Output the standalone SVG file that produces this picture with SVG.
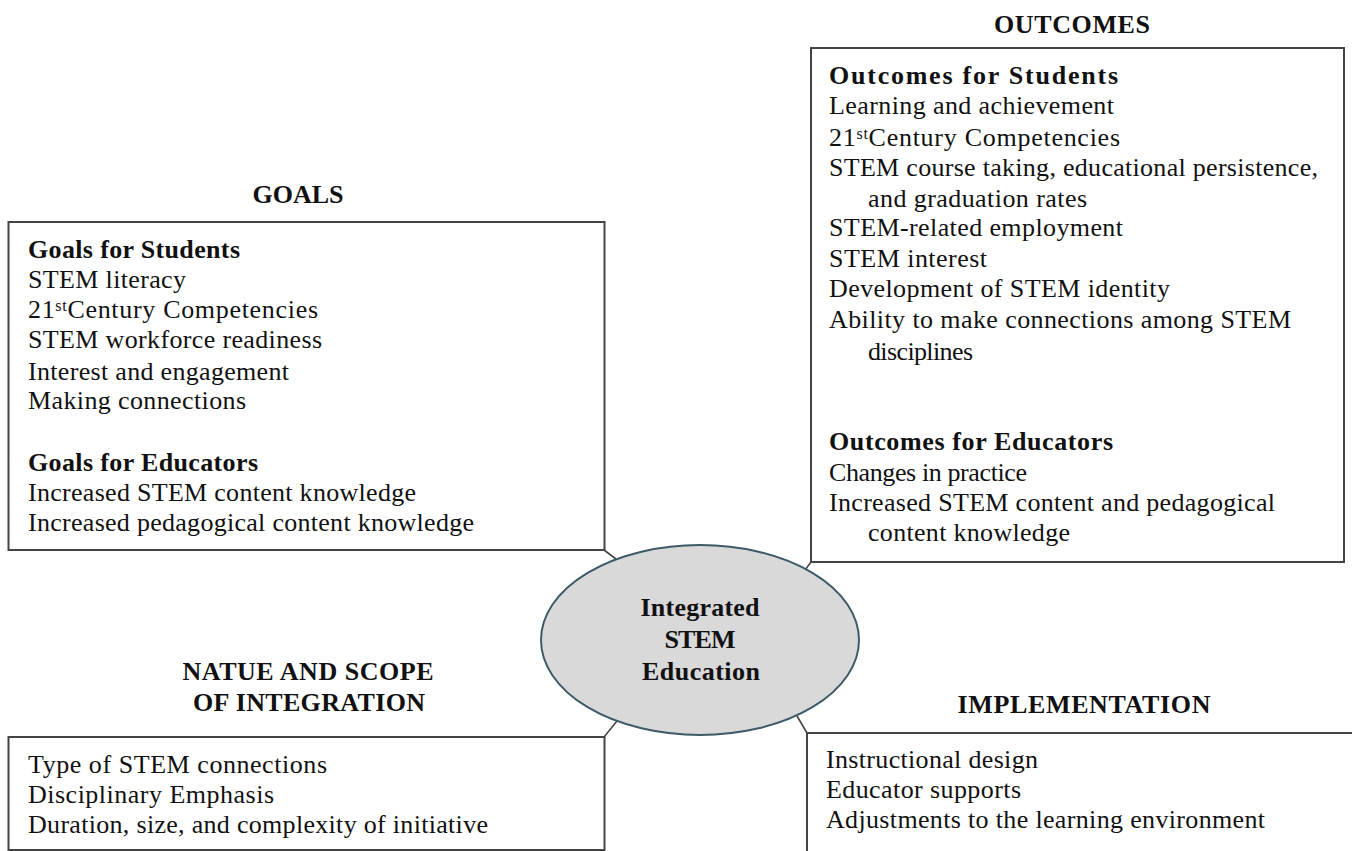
<svg xmlns="http://www.w3.org/2000/svg" width="1352" height="851" viewBox="0 0 1352 851">
  <style>
    .t { font-family: "Liberation Serif", "Times New Roman", serif; font-size: 26px; fill: #111; }
    .b { font-weight: bold; }
    .c { text-anchor: middle; }
    .box { fill: #fff; stroke: #444; stroke-width: 2; }
    .link { stroke: #444; stroke-width: 1.6; fill: none; }
    .sup { font-size: 16px; }
  </style>
  <rect width="1352" height="851" fill="#fff"/>

  <!-- short links between the hub and each box corner -->
  <g id="connectors">
    <line class="link" x1="604" y1="550" x2="616" y2="559"/>
    <line class="link" x1="811" y1="562" x2="805" y2="570"/>
    <line class="link" x1="604" y1="737" x2="617" y2="721"/>
    <line class="link" x1="807" y1="733" x2="797" y2="716"/>
  </g>

  <g id="goals">
    <text class="t b c" x="298" y="203" textLength="91" lengthAdjust="spacing">GOALS</text>
    <rect class="box" x="8.5" y="222" width="596" height="328"/>
    <text class="t b" x="28" y="258" textLength="212" lengthAdjust="spacing">Goals for Students</text>
    <text class="t" x="28" y="288" textLength="158" lengthAdjust="spacing">STEM literacy</text>
    <text class="t" x="28" y="318" textLength="290" lengthAdjust="spacing">21<tspan class="sup" dy="-7">st</tspan><tspan dy="7">Century Competencies</tspan></text>
    <text class="t" x="28" y="348" textLength="294" lengthAdjust="spacing">STEM workforce readiness</text>
    <text class="t" x="28" y="380" textLength="261" lengthAdjust="spacing">Interest and engagement</text>
    <text class="t" x="28" y="409" textLength="218" lengthAdjust="spacing">Making connections</text>
    <text class="t b" x="28" y="471" textLength="230" lengthAdjust="spacing">Goals for Educators</text>
    <text class="t" x="28" y="501" textLength="388" lengthAdjust="spacing">Increased STEM content knowledge</text>
    <text class="t" x="28" y="531" textLength="446" lengthAdjust="spacing">Increased pedagogical content knowledge</text>
  </g>

  <g id="outcomes">
    <text class="t b c" x="1072" y="33" textLength="156" lengthAdjust="spacing">OUTCOMES</text>
    <rect class="box" x="811" y="48" width="533" height="514"/>
    <text class="t b" x="829" y="84" textLength="289" lengthAdjust="spacing">Outcomes for Students</text>
    <text class="t" x="829" y="114" textLength="285" lengthAdjust="spacing">Learning and achievement</text>
    <text class="t" x="829" y="146" textLength="291" lengthAdjust="spacing">21<tspan class="sup" dy="-7">st</tspan><tspan dy="7">Century Competencies</tspan></text>
    <text class="t" x="829" y="176" textLength="489" lengthAdjust="spacing">STEM course taking, educational persistence,</text>
    <text class="t" x="868" y="207" textLength="219" lengthAdjust="spacing">and graduation rates</text>
    <text class="t" x="829" y="236" textLength="294" lengthAdjust="spacing">STEM-related employment</text>
    <text class="t" x="829" y="267" textLength="158" lengthAdjust="spacing">STEM interest</text>
    <text class="t" x="829" y="297" textLength="341" lengthAdjust="spacing">Development of STEM identity</text>
    <text class="t" x="829" y="328" textLength="462" lengthAdjust="spacing">Ability to make connections among STEM</text>
    <text class="t" x="868" y="360" textLength="105" lengthAdjust="spacing">disciplines</text>
    <text class="t b" x="829" y="450" textLength="284" lengthAdjust="spacing">Outcomes for Educators</text>
    <text class="t" x="829" y="481" textLength="198" lengthAdjust="spacing">Changes in practice</text>
    <text class="t" x="829" y="511" textLength="446" lengthAdjust="spacing">Increased STEM content and pedagogical</text>
    <text class="t" x="868" y="541" textLength="202" lengthAdjust="spacing">content knowledge</text>
  </g>

  <g id="hub">
    <ellipse cx="700" cy="640" rx="159" ry="95" fill="#d9d9d9" stroke="#3d5a68" stroke-width="2"/>
    <text class="t b c" x="700" y="616" textLength="119" lengthAdjust="spacing">Integrated</text>
    <text class="t b c" x="700" y="648" textLength="71" lengthAdjust="spacing">STEM</text>
    <text class="t b c" x="701" y="680" textLength="118" lengthAdjust="spacing">Education</text>
  </g>

  <g id="nature-scope">
    <text class="t b c" x="308" y="680" textLength="251" lengthAdjust="spacing">NATUE AND SCOPE</text>
    <text class="t b c" x="309" y="711" textLength="232" lengthAdjust="spacing">OF INTEGRATION</text>
    <rect class="box" x="8.5" y="737" width="596" height="113"/>
    <text class="t" x="28" y="773" textLength="299" lengthAdjust="spacing">Type of STEM connections</text>
    <text class="t" x="28" y="803" textLength="246" lengthAdjust="spacing">Disciplinary Emphasis</text>
    <text class="t" x="28" y="833" textLength="460" lengthAdjust="spacing">Duration, size, and complexity of initiative</text>
  </g>

  <g id="implementation">
    <text class="t b c" x="1084" y="713" textLength="253" lengthAdjust="spacing">IMPLEMENTATION</text>
    <rect class="box" x="807" y="733" width="560" height="130"/>
    <text class="t" x="826" y="768" textLength="212" lengthAdjust="spacing">Instructional design</text>
    <text class="t" x="826" y="798" textLength="195" lengthAdjust="spacing">Educator supports</text>
    <text class="t" x="826" y="828" textLength="439" lengthAdjust="spacing">Adjustments to the learning environment</text>
  </g>
</svg>
